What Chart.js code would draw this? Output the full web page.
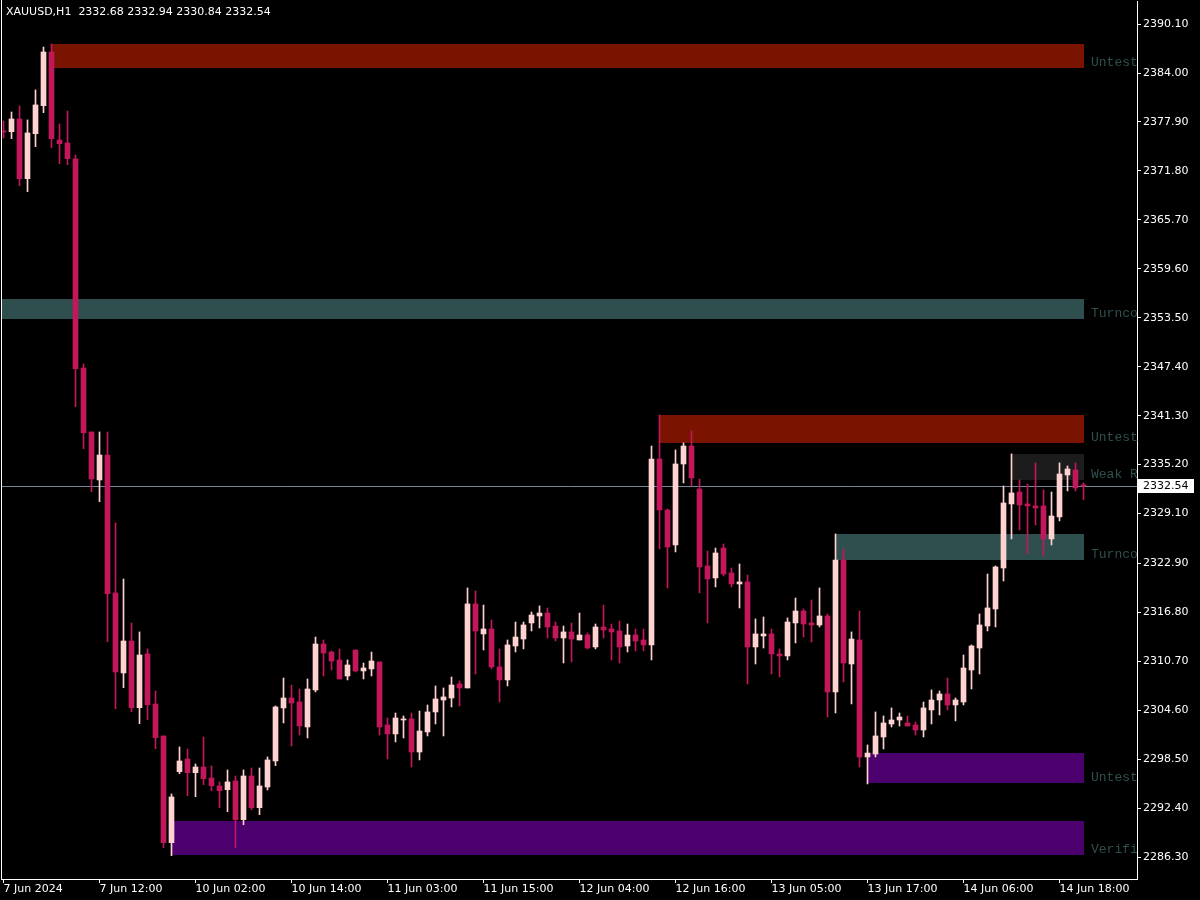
<!DOCTYPE html>
<html>
<head>
<meta charset="utf-8">
<script src="https://cdn.jsdelivr.net/npm/chart.js@4.4.1/dist/chart.umd.min.js"></script>
<style>
  html, body { margin: 0; padding: 0; background: #000; }
  canvas { display: block; }
</style>
</head>
<body>
<canvas id="myChart" width="1200" height="900"></canvas>
<script>
// XAUUSD H1 - candles + supply/demand zones

const symbol = 'XAUUSD,H1';

const opens = [
  2376.78, 2376.69, 2378.27, 2370.83, 2376.44, 2379.93, 2386.62, 2375.65, 2375.28, 2373.29,
  2347.24, 2339.27, 2333.29, 2336.40, 2319.21, 2309.24, 2313.22, 2304.91, 2311.61, 2305.37,
  2301.39, 2288.09, 2296.94, 2298.52, 2296.81, 2297.52, 2296.15, 2295.16, 2294.70, 2295.78,
  2290.96, 2296.40, 2292.45, 2295.03, 2298.27, 2304.88, 2306.12, 2305.62, 2302.51, 2307.12,
  2312.85, 2311.85, 2310.86, 2308.86, 2312.10, 2309.49, 2309.74, 2310.61, 2302.76, 2301.64,
  2303.38, 2303.51, 2299.39, 2301.89, 2304.38, 2305.87, 2306.12, 2307.87, 2307.37, 2317.84,
  2314.10, 2314.72, 2309.99, 2308.37, 2312.60, 2313.47, 2315.47, 2316.34, 2316.71, 2315.09,
  2313.60, 2314.35, 2313.35, 2313.97, 2312.48, 2314.97, 2314.72, 2314.47, 2312.60, 2313.97,
  2313.35, 2312.73, 2335.90, 2329.55, 2325.19, 2335.28, 2337.52, 2332.17, 2322.57, 2321.08,
  2324.81, 2321.70, 2320.33, 2320.58, 2312.48, 2313.85, 2314.10, 2311.61, 2311.36, 2315.47,
  2316.96, 2315.47, 2315.22, 2316.34, 2306.87, 2323.32, 2310.36, 2313.35, 2298.77, 2299.14,
  2301.26, 2302.88, 2303.38, 2303.01, 2302.76, 2302.13, 2304.63, 2305.87, 2306.62, 2305.25,
  2305.62, 2309.61, 2312.35, 2315.09, 2317.21, 2322.32, 2330.30, 2331.79, 2330.30, 2330.05,
  2330.05, 2325.94, 2328.68, 2333.91, 2334.53, 2332.68
];

const highs = [
  2378.02, 2379.14, 2379.89, 2378.15, 2381.89, 2387.24, 2387.62, 2377.65, 2379.27, 2373.79,
  2347.74, 2339.27, 2339.27, 2339.27, 2327.93, 2320.95, 2315.47, 2314.35, 2312.23, 2306.99,
  2301.39, 2294.16, 2300.02, 2299.77, 2297.90, 2301.26, 2297.65, 2295.66, 2297.15, 2296.40,
  2297.15, 2297.40, 2297.40, 2298.77, 2305.13, 2308.61, 2307.74, 2307.24, 2308.49, 2313.72,
  2313.35, 2311.98, 2312.23, 2310.86, 2312.10, 2310.48, 2311.85, 2310.61, 2303.63, 2304.25,
  2303.88, 2304.25, 2304.50, 2305.25, 2307.62, 2307.37, 2308.74, 2308.24, 2319.83, 2319.46,
  2317.71, 2315.84, 2312.23, 2313.35, 2315.59, 2315.59, 2316.84, 2317.59, 2317.34, 2315.59,
  2315.09, 2315.47, 2316.71, 2314.22, 2315.34, 2317.71, 2315.34, 2315.72, 2315.34, 2314.72,
  2314.72, 2337.52, 2341.39, 2329.67, 2337.03, 2337.90, 2339.39, 2333.41, 2324.44, 2324.81,
  2325.31, 2322.32, 2322.82, 2321.45, 2315.97, 2316.22, 2314.72, 2312.23, 2316.09, 2318.58,
  2317.21, 2318.33, 2319.83, 2316.59, 2326.56, 2324.69, 2314.35, 2316.96, 2300.27, 2304.38,
  2303.88, 2304.88, 2304.25, 2303.88, 2303.13, 2305.62, 2307.12, 2306.99, 2308.61, 2306.12,
  2311.48, 2312.73, 2316.59, 2321.57, 2322.57, 2332.54, 2336.53, 2333.29, 2332.79, 2335.41,
  2332.04, 2331.79, 2335.41, 2335.03, 2335.41, 2332.94
];

const lows = [
  2375.90, 2375.82, 2369.96, 2369.21, 2374.82, 2379.06, 2374.70, 2372.70, 2372.58, 2342.42,
  2337.19, 2331.83, 2330.58, 2313.14, 2304.79, 2307.40, 2304.41, 2302.92, 2303.42, 2299.80,
  2287.47, 2286.47, 2296.69, 2293.95, 2293.82, 2295.32, 2294.57, 2292.45, 2291.95, 2287.47,
  2290.33, 2292.20, 2291.58, 2294.66, 2297.69, 2303.01, 2300.14, 2301.51, 2301.14, 2306.87,
  2308.86, 2309.61, 2308.49, 2308.37, 2309.36, 2308.49, 2308.86, 2301.51, 2298.52, 2300.64,
  2301.14, 2297.52, 2298.40, 2301.39, 2302.88, 2301.39, 2305.00, 2305.13, 2307.37, 2309.11,
  2312.10, 2309.74, 2305.62, 2307.62, 2311.85, 2312.23, 2314.47, 2314.85, 2313.60, 2313.22,
  2310.48, 2310.61, 2313.35, 2312.23, 2312.23, 2313.60, 2310.86, 2310.48, 2311.85, 2311.98,
  2311.98, 2310.86, 2324.69, 2319.83, 2324.32, 2332.91, 2332.54, 2319.21, 2315.47, 2319.95,
  2321.32, 2319.95, 2317.34, 2307.87, 2310.36, 2312.35, 2309.11, 2308.74, 2310.86, 2312.98,
  2313.72, 2313.10, 2314.97, 2303.75, 2304.25, 2308.12, 2305.38, 2297.52, 2295.41, 2298.77,
  2299.77, 2302.51, 2302.63, 2302.63, 2301.51, 2301.26, 2302.88, 2304.00, 2304.63, 2303.26,
  2305.25, 2307.24, 2309.11, 2314.47, 2314.97, 2320.70, 2325.94, 2327.06, 2324.07, 2327.68,
  2323.82, 2325.19, 2328.18, 2331.92, 2331.92, 2330.84
];

const closes = [
  2376.65, 2378.27, 2370.83, 2376.53, 2380.02, 2386.62, 2375.82, 2375.19, 2373.32, 2347.16,
  2339.18, 2333.41, 2336.40, 2319.12, 2309.36, 2313.22, 2304.91, 2311.48, 2305.29, 2301.18,
  2288.09, 2293.79, 2298.27, 2296.81, 2297.52, 2296.07, 2295.19, 2294.57, 2295.66, 2290.96,
  2296.40, 2292.45, 2295.16, 2298.40, 2305.00, 2306.12, 2305.50, 2302.63, 2307.24, 2312.85,
  2311.73, 2310.73, 2308.49, 2310.23, 2309.49, 2309.86, 2310.73, 2302.51, 2301.64, 2303.63,
  2303.51, 2299.39, 2302.01, 2304.38, 2306.00, 2306.25, 2307.74, 2307.37, 2317.84, 2314.47,
  2314.72, 2309.99, 2308.37, 2312.73, 2313.72, 2315.22, 2316.46, 2316.71, 2314.97, 2313.60,
  2314.35, 2313.47, 2313.97, 2312.35, 2314.97, 2314.60, 2314.35, 2312.48, 2313.97, 2313.22,
  2312.73, 2335.90, 2329.55, 2324.94, 2335.28, 2337.52, 2333.54, 2322.45, 2320.95, 2324.19,
  2321.57, 2320.33, 2320.58, 2312.48, 2314.10, 2314.10, 2311.61, 2311.36, 2315.59, 2316.96,
  2315.34, 2315.22, 2316.34, 2306.87, 2323.32, 2310.48, 2313.47, 2298.77, 2299.26, 2301.39,
  2303.01, 2303.38, 2303.75, 2302.63, 2302.13, 2304.88, 2305.87, 2306.62, 2305.25, 2305.87,
  2309.86, 2312.60, 2315.22, 2317.34, 2322.45, 2330.42, 2331.67, 2330.17, 2330.05, 2329.80,
  2325.94, 2328.80, 2334.03, 2334.66, 2332.29, 2332.54
];

// time axis labels, one every 12 bars
const tickBars = [0, 12, 24, 36, 48, 60, 72, 84, 96, 108, 120, 132];
const tickLabels = ['7 Jun 2024', '7 Jun 12:00', '10 Jun 02:00', '10 Jun 14:00', '11 Jun 03:00', '11 Jun 15:00',
  '12 Jun 04:00', '12 Jun 16:00', '13 Jun 05:00', '13 Jun 17:00', '14 Jun 06:00', '14 Jun 18:00'];

// price axis labels
const priceTicks = [2286.30, 2292.40, 2298.50, 2304.60, 2310.70, 2316.80, 2322.90, 2329.10, 2335.20,
  2341.30, 2347.40, 2353.50, 2359.60, 2365.70, 2371.80, 2377.90, 2384.00, 2390.10];

// zones: first bar, top and bottom price, kind, text
const zoneStart = [6, -2, 82, 126, 104, 108, 21];
const zoneTop = [2387.61, 2355.84, 2341.38, 2336.52, 2326.55, 2299.26, 2290.79];
const zoneBottom = [2384.66, 2353.38, 2337.93, 2333.28, 2323.31, 2295.53, 2286.55];
const zoneKind = ['resistance', 'turncoat', 'resistance', 'weak', 'turncoat', 'support', 'support'];
const zoneText = ['Untested Resistance', 'Turncoat Support', 'Untested Resistance', 'Weak Resistance',
  'Turncoat Support', 'Untested Support', 'Verified Support'];

const zoneColors = { resistance: '#7A1400', turncoat: '#2F4F4F', weak: '#1C1C1C', support: '#4B006E' };
const bullColor = '#FDD2D0';
const bearColor = '#C2185B';

const barIdx = opens.map((_, i) => i);
const lastBar = barIdx.length - 1;
const candleColors = barIdx.map(i => closes[i] >= opens[i] ? bullColor : bearColor);
const lastPrice = closes[lastBar];

const font = 'DejaVu Sans';

const overlay = {
  id: 'overlay',
  beforeDatasetsDraw(chart) {
    const { ctx, chartArea: a, scales: { x, y } } = chart;
    ctx.save();
    ctx.beginPath();
    ctx.rect(a.left, a.top, a.right - a.left, a.bottom - a.top);
    ctx.clip();
    // zones
    zoneStart.forEach((s, i) => {
      const x0 = Math.round(x.getPixelForValue(s));
      const x1 = Math.round(x.getPixelForValue(lastBar));
      const y0 = Math.round(y.getPixelForValue(zoneTop[i]));
      const y1 = Math.round(y.getPixelForValue(zoneBottom[i]));
      ctx.fillStyle = zoneColors[zoneKind[i]];
      ctx.fillRect(x0, y0, x1 - x0, y1 - y0);
    });
    // bid line
    const py = Math.round(y.getPixelForValue(lastPrice)) + 0.5;
    ctx.strokeStyle = '#77889A';
    ctx.lineWidth = 1;
    ctx.beginPath();
    ctx.moveTo(a.left, py);
    ctx.lineTo(a.right, py);
    ctx.stroke();
    ctx.restore();
  },
  afterDraw(chart) {
    const { ctx, chartArea: a, scales: { x, y } } = chart;
    ctx.save();
    // zone labels, cut at the price axis
    ctx.beginPath();
    ctx.rect(a.left, a.top, a.right - a.left, a.bottom - a.top);
    ctx.clip();
    ctx.font = '13px "Liberation Mono"';
    ctx.fillStyle = '#2F4F4F';
    ctx.textBaseline = 'middle';
    ctx.textAlign = 'left';
    zoneText.forEach((t, i) => {
      ctx.fillText(t, x.getPixelForValue(lastBar + 1) - 0.5, y.getPixelForValue(zoneBottom[i]) - 5);
    });
    ctx.restore();

    ctx.save();
    // left frame line
    ctx.fillStyle = '#fff';
    ctx.fillRect(a.left - 1, 0, 1, a.bottom + 1);
    // header
    ctx.font = '11px "' + font + '"';
    ctx.fillStyle = '#fff';
    ctx.textBaseline = 'middle';
    ctx.textAlign = 'left';
    const ohlc = [opens[lastBar], highs[lastBar], lows[lastBar], closes[lastBar]].map(v => v.toFixed(2)).join(' ');
    ctx.fillText(symbol + '  ' + ohlc, 6, 12);
    // last price box on the axis
    const py = Math.round(y.getPixelForValue(lastPrice));
    ctx.fillStyle = '#fff';
    ctx.fillRect(a.right + 1, py - 7, 56, 14);
    ctx.fillStyle = '#000';
    ctx.fillText(lastPrice.toFixed(2), a.right + 6, py);
    ctx.restore();
  }
};

const noPad = s => { s.paddingTop = 0; s.paddingBottom = 0; s.paddingLeft = 0; s.paddingRight = 0; };

const ctx = document.getElementById('myChart').getContext('2d');

new Chart(ctx, {
  type: 'bar',
  data: {
    datasets: [
      {
        label: 'body',
        data: barIdx.map(i => ({ x: i, y: [opens[i], closes[i]] })),
        backgroundColor: candleColors,
        barThickness: 5,
        minBarLength: 1,
        grouped: false,
        borderWidth: 0,
        order: 0
      },
      {
        label: 'wick',
        data: barIdx.map(i => ({ x: i, y: [lows[i], highs[i]] })),
        backgroundColor: candleColors,
        barThickness: 1,
        grouped: false,
        borderWidth: 0,
        order: 1
      }
    ]
  },
  options: {
    responsive: false,
    animation: false,
    devicePixelRatio: 1,
    layout: { padding: { left: 2, top: 1, right: 0, bottom: 0 } },
    plugins: { legend: { display: false }, tooltip: { enabled: false } },
    scales: {
      x: {
        type: 'linear',
        offset: false,
        min: -0.1875,
        max: 141.6875,
        afterBuildTicks: s => { s.ticks = tickBars.map(v => ({ value: v })); },
        afterFit: s => { s.height = 21; noPad(s); },
        border: { color: '#fff' },
        grid: { drawOnChartArea: false, offset: false, tickLength: 4, color: '#fff' },
        ticks: {
          color: '#fff',
          font: { family: font, size: 11 },
          align: 'start',
          maxRotation: 0,
          autoSkip: false,
          padding: 0,
          callback: (v, i) => tickLabels[i]
        }
      },
      y: {
        position: 'right',
        min: 2283.564,
        max: 2392.972,
        afterBuildTicks: s => { s.ticks = priceTicks.map(v => ({ value: v })); },
        afterFit: s => { s.width = 63; noPad(s); },
        border: { color: '#fff' },
        grid: { drawOnChartArea: false, tickLength: 4, color: '#fff' },
        ticks: {
          color: '#fff',
          font: { family: font, size: 11 },
          padding: 2,
          callback: v => v.toFixed(2)
        }
      }
    }
  },
  plugins: [overlay]
});
</script>
</body>
</html>
